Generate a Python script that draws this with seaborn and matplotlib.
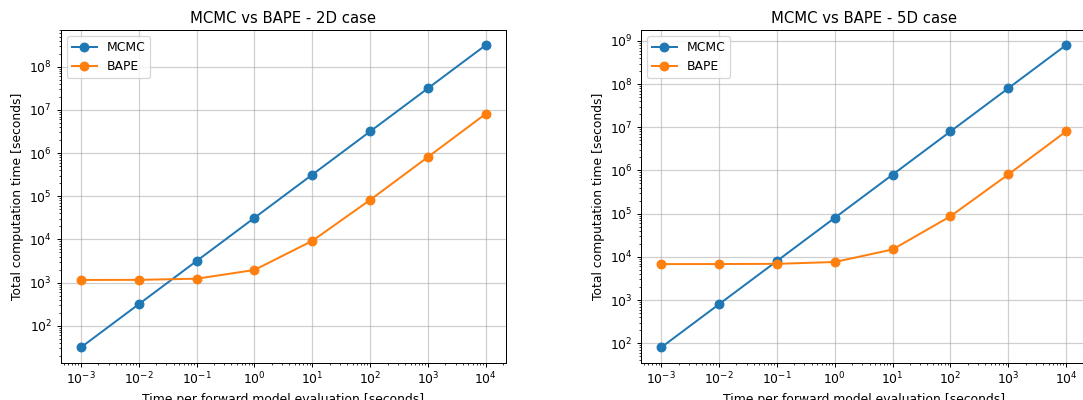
import matplotlib
matplotlib.use("Agg")
import matplotlib.pyplot as plt
import seaborn as sns
import pandas as pd

# Time per forward model evaluation [s]
eval_time = [1e-3, 1e-2, 1e-1, 1e0, 1e1, 1e2, 1e3, 1e4]

# Total computation time [s], 2D case
mcmc_2d = [31.6, 316, 3160, 3.16e4, 3.16e5, 3.16e6, 3.16e7, 3.16e8]
bape_2d = [1151, 1158, 1231, 1960, 9250, 8.2e4, 8.1e5, 8.1e6]

# Total computation time [s], 5D case
mcmc_5d = [80, 800, 8000, 8e4, 8e5, 8e6, 8e7, 8e8]
bape_5d = [6800, 6810, 6880, 7600, 14800, 8.68e4, 8.07e5, 8.01e6]

panels = [
    ("MCMC vs BAPE - 2D case", mcmc_2d, bape_2d),
    ("MCMC vs BAPE - 5D case", mcmc_5d, bape_5d),
]

DPI = 89
fig = plt.figure(figsize=(1083 / DPI, 400 / DPI), dpi=DPI)

W, H = 1083, 400
ax_w, ax_h = 445.3, 332.5
ax_top = 30.0
lefts = [60.7, 641.0]

for left, (title, mcmc, bape) in zip(lefts, panels):
    ax = fig.add_axes([left / W, (H - ax_top - ax_h) / H, ax_w / W, ax_h / H])
    df = pd.DataFrame({"t": eval_time, "MCMC": mcmc, "BAPE": bape})
    for name, color in (("MCMC", "C0"), ("BAPE", "C1")):
        sns.lineplot(data=df, x="t", y=name, ax=ax, color=color, label=name,
                     marker="o", markersize=7, markeredgecolor=color,
                     markeredgewidth=1.0, linewidth=1.6)
    ax.set_xscale("log")
    ax.set_yscale("log")
    ax.set_xticks(eval_time)
    ax.grid(True, which="major", color="#b0b0b0", alpha=0.6, linewidth=1.0)
    ax.set_title(title, fontsize=12)
    ax.set_xlabel("Time per forward model evaluation [seconds]", fontsize=10)
    ax.set_ylabel("Total computation time [seconds]", fontsize=10)
    ax.legend(loc="upper left", fontsize=10)

fig.savefig("out.png", dpi=DPI)
